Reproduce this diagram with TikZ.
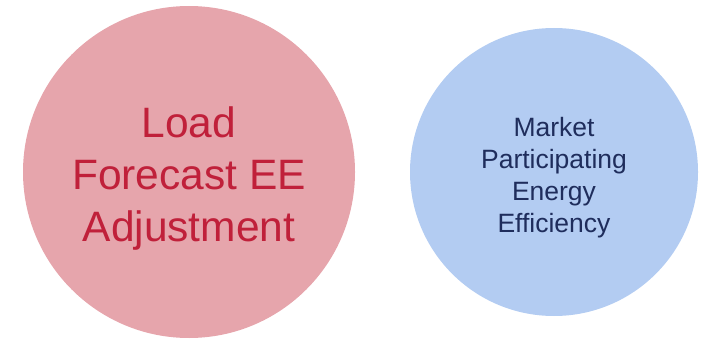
\documentclass[tikz,border=0pt]{standalone}
\usepackage{fontspec}
\setmainfont{Liberation Sans}
\usepackage{tikz}
\definecolor{loadfill}{HTML}{E6A5AC}
\definecolor{loadtext}{HTML}{C0203A}
\definecolor{mktfill}{HTML}{B3CCF2}
\definecolor{mkttext}{HTML}{1F2D5C}

\begin{document}
\begin{tikzpicture}[x=1pt, y=-1pt, every node/.style={align=center, inner sep=0pt}]
        \useasboundingbox (0,0) rectangle (711,339);
        \node[circle, fill=loadfill, minimum size=332pt] (LF) at (189,172) {};
        \node[circle, fill=mktfill, minimum size=288pt] (MP) at (554,172) {};

        \node[text=loadtext, font=\fontsize{42.5}{52}\selectfont] (LFtext) at ([yshift=-7pt]LF.center) {Load\\Forecast EE\\Adjustment};
        \node[text=mkttext, font=\fontsize{26.5}{32}\selectfont] (MPtext) at ([yshift=-6pt]MP.center) {Market\\Participating\\Energy\\Efficiency};
    \end{tikzpicture}
\end{document}
